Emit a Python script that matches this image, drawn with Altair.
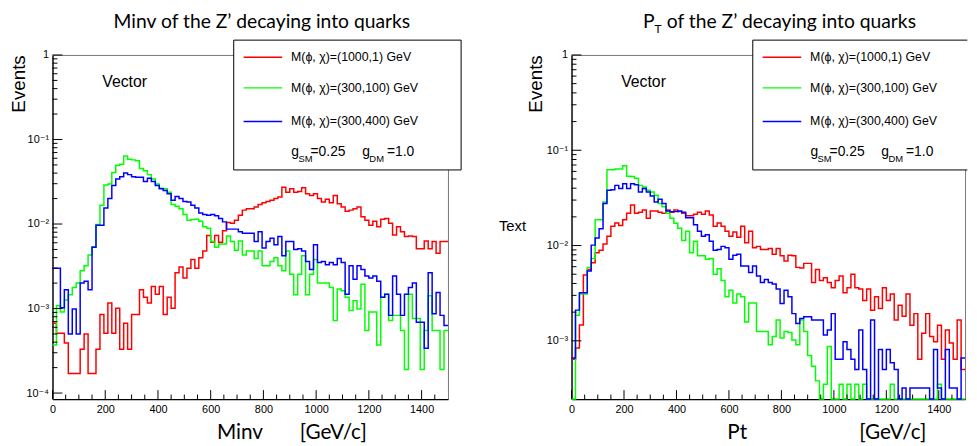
import altair as alt
import pandas as pd

X_MAX = 1500
BIN_W = 15
bin_left = list(range(0, X_MAX, BIN_W))

series = ["M(ϕ, χ)=(1000,1) GeV", "M(ϕ, χ)=(300,100) GeV", "M(ϕ, χ)=(300,400) GeV"]
colors = ["#ff0000", "#00ff00", "#0000ff"]

# ---- Minv panel (bin contents, 15 GeV bins) ----
minv_red = [0.00067, 0.00051, 0.00051, 0.00039, 0.00017, 0.00017, 0.00017, 0.00033, 0.00050, 0.00017,
            0.00017, 0.00033, 0.00085, 0.00051, 0.00116, 0.00051, 0.00101, 0.00033, 0.00067, 0.00033,
            0.00085, 0.00085, 0.00167, 0.00136, 0.00116, 0.00182, 0.00148, 0.00182, 0.00085, 0.00136,
            0.00101, 0.00265, 0.0031, 0.0023, 0.0030, 0.0038, 0.0030, 0.0040, 0.0048, 0.0073,
            0.0061, 0.0073, 0.0061, 0.0083, 0.0104, 0.0102, 0.0111, 0.0127, 0.0146, 0.0152,
            0.0152, 0.0159, 0.0170, 0.0179, 0.0185, 0.0191, 0.0200, 0.0209, 0.0273, 0.0238,
            0.0261, 0.0238, 0.0243, 0.0268, 0.0228, 0.0218, 0.0228, 0.0200, 0.0182, 0.0196,
            0.0179, 0.0218, 0.0174, 0.0159, 0.0142, 0.0146, 0.0152, 0.0159, 0.0122, 0.0111,
            0.0097, 0.0108, 0.0093, 0.0114, 0.0116, 0.0102, 0.0074, 0.0093, 0.0081, 0.0071,
            0.0072, 0.0071, 0.0051, 0.0051, 0.0063, 0.0051, 0.0062, 0.0045, 0.0062, 0.0062]
minv_green = [0.00037, 0.00108, 0.00091, 0.00126, 0.00146, 0.00177, 0.0020, 0.0028, 0.0032, 0.0043,
              0.0054, 0.0099, 0.0167, 0.0290, 0.0298, 0.0408, 0.0497, 0.0511, 0.0638, 0.0585,
              0.0574, 0.0559, 0.0455, 0.0427, 0.0384, 0.0341, 0.0298, 0.0265, 0.0261, 0.0238,
              0.0170, 0.0162, 0.0152, 0.0130, 0.0111, 0.0113, 0.0114, 0.0108, 0.0093, 0.0089,
              0.0062, 0.0053, 0.0058, 0.0058, 0.0072, 0.0062, 0.0049, 0.0063, 0.0043, 0.0048,
              0.0048, 0.0039, 0.0048, 0.0032, 0.0032, 0.0036, 0.0040, 0.0032, 0.0028, 0.0048,
              0.00254, 0.00146, 0.00254, 0.0042, 0.00146, 0.00254, 0.0038, 0.0020, 0.0020, 0.0020,
              0.00177, 0.00072, 0.00170, 0.00162, 0.00136, 0.00095, 0.00124, 0.00099, 0.00194, 0.00055,
              0.00091, 0.00091, 0.00037, 0.00136, 0.00148, 0.00072, 0.00083, 0.00083, 0.00055, 0.00019,
              0.00148, 0.00076, 0.00076, 0.00019, 0.00055, 0.00142, 0.00055, 0.00055, 0.00019, 0.00055]
minv_blue = [0.0030, 0.0030, 0.00102, 0.00167, 0.00050, 0.00099, 0.00050, 0.0020, 0.0021, 0.00167,
             0.0053, 0.0097, 0.0097, 0.0155, 0.0200, 0.0285, 0.0341, 0.0363, 0.0401, 0.0384,
             0.0363, 0.0357, 0.0357, 0.0318, 0.0347, 0.0318, 0.0285, 0.0261, 0.0249, 0.0228,
             0.0191, 0.0212, 0.0200, 0.0185, 0.0182, 0.0167, 0.0155, 0.0135, 0.0130, 0.0127,
             0.0130, 0.0125, 0.0116, 0.0106, 0.0087, 0.0087, 0.0087, 0.0081, 0.0078, 0.0078,
             0.0078, 0.0062, 0.0081, 0.0052, 0.0062, 0.0068, 0.0057, 0.0071, 0.0042, 0.0062,
             0.0062, 0.0050, 0.0051, 0.0048, 0.0036, 0.0029, 0.0057, 0.0035, 0.0036, 0.0033,
             0.0035, 0.0033, 0.0039, 0.0035, 0.00148, 0.0032, 0.00222, 0.0032, 0.0029, 0.00243,
             0.0023, 0.00243, 0.0021, 0.00136, 0.00148, 0.00083, 0.00243, 0.00148, 0.00083, 0.00148,
             0.00177, 0.0020, 0.00069, 0.00069, 0.00034, 0.00265, 0.00087, 0.00155, 0.00083, 0.00063]

# ---- Pt panel (bin contents, 15 GeV bins; 0 = empty bin) ----
pt_red = [0.00064, 0.00084, 0.00147, 0.0049, 0.0056, 0.0066, 0.0084, 0.0089, 0.0104, 0.0125,
          0.0159, 0.0172, 0.0162, 0.0186, 0.0218, 0.0266, 0.0218, 0.0223, 0.0236, 0.0193,
          0.0230, 0.0230, 0.0223, 0.0218, 0.0236, 0.0223, 0.0236, 0.0227, 0.0218, 0.0206,
          0.0206, 0.0213, 0.0223, 0.0213, 0.0230, 0.0209, 0.0159, 0.0172, 0.0159, 0.0141,
          0.0125, 0.0139, 0.0122, 0.0159, 0.0107, 0.0141, 0.0095, 0.0098, 0.0091, 0.0091,
          0.0093, 0.0081, 0.0093, 0.0078, 0.0069, 0.0079, 0.0078, 0.0059, 0.0058, 0.0065,
          0.0065, 0.0041, 0.0056, 0.0043, 0.0046, 0.0041, 0.0036, 0.0043, 0.0048, 0.0032,
          0.0036, 0.0050, 0.0036, 0.0035, 0.00265, 0.0035, 0.00209, 0.0029, 0.00218, 0.0036,
          0.00265, 0.0031, 0.00165, 0.00236, 0.00181, 0.0031, 0.00146, 0.00193, 0.00064, 0.00120,
          0.00193, 0.00111, 0.00098, 0.00146, 0.00064, 0.00130, 0.00095, 0.00064, 0.00165, 0.00050]
pt_green = [0, 0.00186, 0.0031, 0.0031, 0.0059, 0.0073, 0.0186, 0.0186, 0.0287, 0.0626,
            0.0626, 0.0636, 0.0636, 0.0689, 0.0534, 0.0530, 0.0509, 0.0428, 0.0411, 0.0380,
            0.0365, 0.0337, 0.0276, 0.0255, 0.0218, 0.0193, 0.0171, 0.0152, 0.0113, 0.0141,
            0.0084, 0.0111, 0.0078, 0.0078, 0.0072, 0.0073, 0.0050, 0.0057, 0.0043, 0.0029,
            0.0034, 0.00249, 0.0031, 0.0029, 0.00158, 0.00249, 0.00249, 0.00125, 0.00125, 0.00125,
            0.00091, 0.00111, 0.00165, 0.00107, 0.00125, 0.00122, 0.00102, 0.00091, 0.00165, 0.00125,
            0.00070, 0.00054, 0.00038, 0, 0.00035, 0.00087, 0, 0, 0.00035, 0,
            0.00035, 0, 0.00035, 0, 0.00035, 0, 0, 0, 0, 0,
            0, 0.00035, 0, 0, 0, 0, 0, 0, 0, 0,
            0, 0, 0, 0.00035, 0, 0, 0, 0, 0, 0]
pt_blue = [0.00066, 0.0021, 0.0032, 0.0032, 0.0054, 0.0101, 0.0120, 0.0150, 0.0276, 0.0380,
           0.0386, 0.0428, 0.0396, 0.0445, 0.0396, 0.0445, 0.0434, 0.0365, 0.0396, 0.0365,
           0.0332, 0.0287, 0.0306, 0.0276, 0.0230, 0.0227, 0.0227, 0.0230, 0.0223, 0.0196,
           0.0196, 0.0165, 0.0141, 0.0125, 0.0130, 0.0111, 0.0089, 0.0091, 0.0098, 0.0095,
           0.0072, 0.0079, 0.0081, 0.0061, 0.0061, 0.0052, 0.0061, 0.0048, 0.0041, 0.0044,
           0.0041, 0.00395, 0.0035, 0.00246, 0.0034, 0.0029, 0.00193, 0.00152, 0.00172, 0.00179,
           0.00179, 0.00165, 0.00165, 0.00165, 0.00115, 0.00130, 0.00193, 0.00064, 0.00064, 0.00098,
           0.00081, 0.00064, 0.00050, 0.00130, 0.00050, 0, 0.00165, 0, 0.00081, 0.00050,
           0.00081, 0.00059, 0.00050, 0, 0.00032, 0, 0.00032, 0.00032, 0.00032, 0.00032,
           0.00032, 0, 0.00081, 0.00032, 0, 0.00081, 0.00032, 0.00032, 0, 0.00066]

x_major = [0, 200, 400, 600, 800, 1000, 1200, 1400]
x_minor = [50, 100, 150, 250, 300, 350, 450, 500, 550, 650, 700, 750, 850, 900, 950,
           1050, 1100, 1150, 1250, 1300, 1350, 1450]
minv_ymin, pt_ymin = 8.5e-5, 2.45e-4
minv_decades = [1, 1e-1, 1e-2, 1e-3, 1e-4]
pt_decades = [1, 1e-1, 1e-2, 1e-3]
minor_mult = [2, 3, 4, 5, 6, 7, 8, 9]

W, H = 400, 348
ROOT_FONT = "Liberation Sans, DejaVu Sans"
SLIDE_FONT = "Lato"
one = pd.DataFrame({"a": [0]})

label_expr = ("datum.value > 0.5 ? '1' : datum.value > 0.05 ? '10⁻¹' : datum.value > 0.005 ? '10⁻²'"
              " : datum.value > 0.0005 ? '10⁻³' : '10⁻⁴'")


def txt(x, y, s, size, font=ROOT_FONT, align="left", baseline="middle", angle=0):
    kw = dict(align=align, baseline=baseline, font=font, fontSize=size, color="black")
    if angle:
        kw["angle"] = angle
    return alt.Chart(one).mark_text(**kw).encode(x=alt.value(x), y=alt.value(y), text=alt.value(s))


def hline(x1, x2, y, color="black", w=1):
    return alt.Chart(one).mark_rule(color=color, strokeWidth=w).encode(
        x=alt.value(x1), x2=alt.value(x2), y=alt.value(y))


def vline(x, y1, y2, color="black", w=1):
    return alt.Chart(one).mark_rule(color=color, strokeWidth=w).encode(
        x=alt.value(x), y=alt.value(y1), y2=alt.value(y2))


def panel(vals_list, ymin, decades, width, extras, box_x2, box_right):
    rows = []
    for name, vals in zip(series, vals_list):
        for x, v in zip(bin_left, vals):
            rows.append({"x": x, "y": max(v, ymin), "s": name})
        rows.append({"x": X_MAX, "y": max(vals[-1], ymin), "s": name})
    df = pd.DataFrame(rows)
    xs = alt.Scale(domain=[0, X_MAX], nice=False, zero=False)
    ys = alt.Scale(type="log", domain=[ymin, 1], nice=False)

    lines = alt.Chart(df).mark_line(interpolate="step-after", strokeWidth=1.5).encode(
        x=alt.X("x:Q", scale=xs, axis=alt.Axis(values=x_major, format="d", title=None, grid=False,
                                               ticks=False, domainColor="black", domainWidth=1.3,
                                               labelFont=ROOT_FONT, labelFontSize=11, labelColor="black",
                                               labelPadding=5, labelFlush=False)),
        y=alt.Y("y:Q", scale=ys, axis=alt.Axis(values=decades, labelExpr=label_expr, title=None, grid=False,
                                               ticks=False, domainColor="#444444", domainWidth=2,
                                               labelFont=ROOT_FONT, labelFontSize=11, labelColor="black",
                                               labelPadding=4, labelFlush=False)),
        color=alt.Color("s:N", scale=alt.Scale(domain=series, range=colors), legend=None),
    )
    ymin_dec = [m * d for d in decades[1:] for m in minor_mult if m * d < 1 and m * d >= ymin]
    xt_major = alt.Chart(pd.DataFrame({"x": x_major})).mark_rule(color="black").encode(
        x=alt.X("x:Q", scale=xs), y=alt.value(H), y2=alt.value(H - 9))
    xt_minor = alt.Chart(pd.DataFrame({"x": x_minor})).mark_rule(color="black").encode(
        x=alt.X("x:Q", scale=xs), y=alt.value(H), y2=alt.value(H - 4.5))
    yt_major = alt.Chart(pd.DataFrame({"y": decades})).mark_rule(color="black").encode(
        y=alt.Y("y:Q", scale=ys), x=alt.value(0), x2=alt.value(10))
    yt_minor = alt.Chart(pd.DataFrame({"y": ymin_dec})).mark_rule(color="black").encode(
        y=alt.Y("y:Q", scale=ys), x=alt.value(0), x2=alt.value(5))

    # legend box
    bx1, by1, by2 = 183.3, -15, 116.3
    box = [alt.Chart(one).mark_rect(fill="white").encode(
        x=alt.value(bx1), x2=alt.value(box_x2), y=alt.value(by1), y2=alt.value(by2)),
        hline(bx1, box_x2, by1), hline(bx1, box_x2, by2), vline(bx1, by1, by2)]
    if box_right:
        box.append(vline(box_x2, by1, by2))
    leg = []
    for name, col, yy in zip(series, colors, [2.3, 33.3, 67.3]):
        leg.append(hline(193.3, 232.3, yy, color=col, w=1.3))
        leg.append(txt(241.3, yy, name, 12.5))
    leg += [txt(241.6, 102.3, "g", 14, baseline="alphabetic"),
            txt(248.8, 108.3, "SM", 9.5, baseline="alphabetic"),
            txt(261.0, 102.3, "=0.25", 14, baseline="alphabetic"),
            txt(313.3, 102.3, "g", 14, baseline="alphabetic"),
            txt(320.5, 108.3, "DM", 9.5, baseline="alphabetic"),
            txt(338.3, 102.3, "=1.0", 14, baseline="alphabetic")]

    layers = [lines, xt_major, xt_minor, yt_major, yt_minor] + box + leg + extras
    return alt.layer(*layers).properties(width=width, height=H)


left_extras = [
    alt.Chart(one).mark_rect(fill="white").encode(x=alt.value(-43.7), x2=alt.value(-42.7),
                                                  y=alt.value(-43.7), y2=alt.value(-42.7)),
    txt(211.8, -33.7, "Minv of the Z’ decaying into quarks", 19.5, font=SLIDE_FONT, align="center"),
    txt(-34.2, 29.3, "Events", 19, align="center", angle=270),
    txt(73.0, 27.8, "Vector", 16, align="center"),
    txt(166.3, 388.3, "Minv", 21, font=SLIDE_FONT, baseline="alphabetic"),
    txt(250.0, 388.3, "[GeV/c]", 21, font=SLIDE_FONT, baseline="alphabetic"),
]
right_extras = [
    txt(72.3, -33.7, "P", 19.5, font=SLIDE_FONT),
    txt(84.0, -26.5, "T", 12, font=SLIDE_FONT),
    txt(96.3, -33.7, "of the Z’ decaying into quarks", 19.5, font=SLIDE_FONT),
    txt(-35.7, 29.3, "Events", 19, align="center", angle=270),
    txt(-59.7, 173.3, "Text", 15, align="center"),
    txt(72.8, 27.8, "Vector", 16, align="center"),
    txt(157.6, 388.3, "Pt", 21, font=SLIDE_FONT, baseline="alphabetic"),
    txt(291.0, 388.3, "[GeV/c]", 21, font=SLIDE_FONT, baseline="alphabetic"),
]

left = panel([minv_red, minv_green, minv_blue], minv_ymin, minv_decades, W, left_extras, 413.3, True)
right = panel([pt_red, pt_green, pt_blue], pt_ymin, pt_decades, 398, right_extras, 400.3, False)

chart = alt.hconcat(left, right, spacing=125, bounds="flush").properties(
    padding=0
).configure_view(stroke="#777777", strokeWidth=1).configure_axis(grid=False)

chart.save("out.html", embed_options={"renderer": "svg", "actions": False})
